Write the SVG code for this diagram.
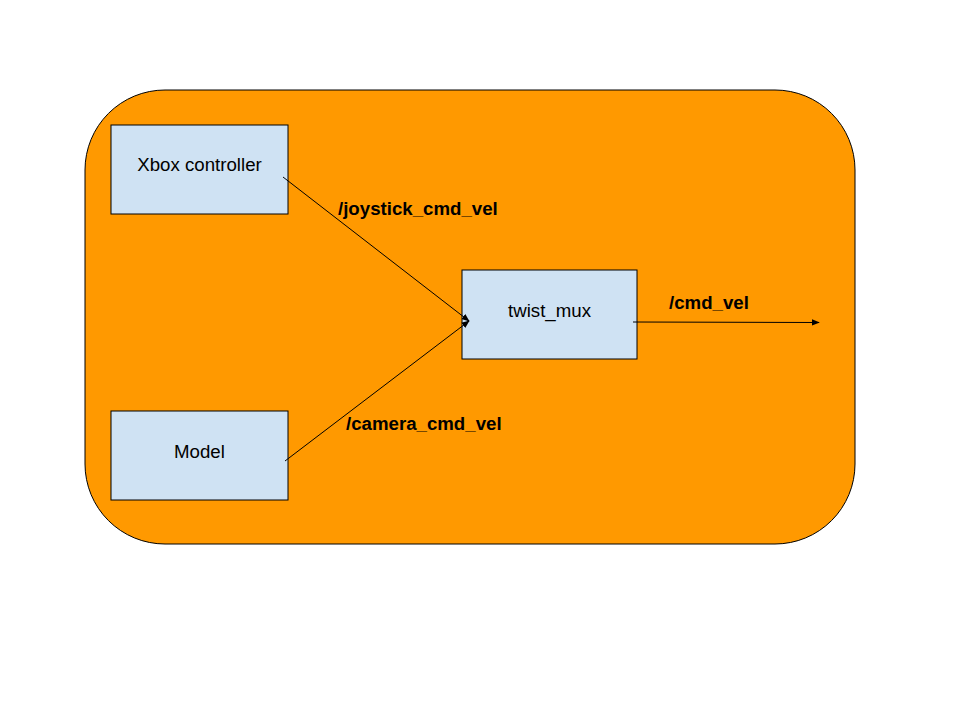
<svg xmlns="http://www.w3.org/2000/svg" width="960" height="720" viewBox="0 0 960 720">
<defs>
<style>
.node{fill:#cfe2f3;stroke:#000;stroke-width:1}
.nt{font-family:"Liberation Sans",Arial,sans-serif;font-size:18.67px;fill:#000;text-anchor:middle}
.lbl{font-family:"Liberation Sans",Arial,sans-serif;font-size:18.67px;font-weight:bold;fill:#000}
.edge{stroke:#000;stroke-width:1;fill:none}
</style>
<marker id="arr" viewBox="0 0 10 10" refX="9" refY="5" markerWidth="8" markerHeight="8" markerUnits="userSpaceOnUse" orient="auto">
<path d="M0,1 L10,5 L0,9 Z" fill="#000"/>
</marker>
</defs>
<rect width="960" height="720" fill="#fff"/>
<g id="container">
<rect x="85" y="90" width="770" height="454" rx="80" ry="80" fill="#ff9900" stroke="#000" stroke-width="1"/>
</g>
<g id="xbox">
<rect class="node" x="111" y="125" width="177" height="89"/>
<text class="nt" x="199.5" y="171">Xbox controller</text>
</g>
<g id="model">
<rect class="node" x="111" y="411" width="177" height="89"/>
<text class="nt" x="199.5" y="458">Model</text>
</g>
<g id="twist_mux">
<rect class="node" x="462" y="270" width="175" height="89"/>
<text class="nt" x="549.5" y="317">twist_mux</text>
</g>
<g id="connectors">
<line class="edge" x1="283" y1="177" x2="469" y2="321" marker-end="url(#arr)"/>
<line class="edge" x1="285" y1="461" x2="469" y2="321" marker-end="url(#arr)"/>
<line class="edge" x1="633" y1="322" x2="819" y2="322.5" marker-end="url(#arr)"/>
<text class="lbl" x="338" y="215">/joystick_cmd_vel</text>
<text class="lbl" x="346" y="430">/camera_cmd_vel</text>
<text class="lbl" x="669" y="309">/cmd_vel</text>
</g>
</svg>
